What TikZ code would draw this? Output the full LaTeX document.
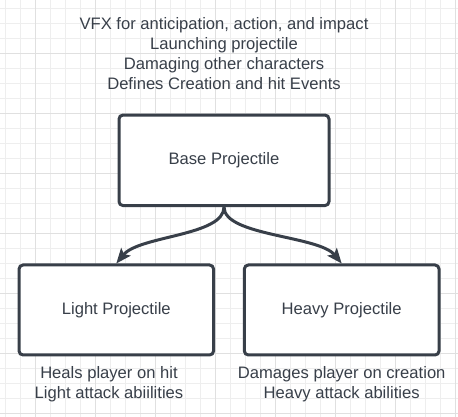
\documentclass[tikz,border=0pt]{standalone}
\usepackage{fontspec}
\setmainfont{Liberation Sans}
\usepackage{tikz}
\usetikzlibrary{arrows.meta}
\definecolor{inkgray}{HTML}{383F49}
\definecolor{minorgray}{HTML}{EEEEEE}
\definecolor{majorgray}{HTML}{E0E0E0}
\tikzset{
	projbox/.style={draw=inkgray, line width=3pt, rounded corners=4pt, fill=white, inner sep=0pt, text=inkgray, font=\fontsize{16.6pt}{20pt}\selectfont},
	notetext/.style={align=center, inner sep=0pt, text=inkgray, font=\fontsize{16.6pt}{20pt}\selectfont},
	inherit/.style={draw=inkgray, line width=3pt, -{Stealth[length=15pt,width=12pt,inset=3pt]}},
	gridminor/.style={draw=minorgray, line width=1pt},
	gridmajor/.style={draw=majorgray, line width=1pt}
}

\begin{document}
\begin{tikzpicture}[x=1pt, y=1pt]
		\useasboundingbox (0,0) rectangle (458,417);
		\fill [white] (0,0) rectangle (458,417);
		% grille de fond
		\foreach \gx in {5,20,...,455} \draw [gridminor] (\gx,0) -- (\gx,417);
		\foreach \gy in {3.7,18.7,...,410} \draw [gridminor] (0,\gy) -- (458,\gy);
		\foreach \gx in {35,95,...,455} \draw [gridmajor] (\gx,0) -- (\gx,417);
		\foreach \gy in {3.7,63.7,...,410} \draw [gridmajor] (0,\gy) -- (458,\gy);
		
		\node [projbox, minimum width=210pt, minimum height=90.5pt] (base) at (224,256.7) {Base Projectile};
		\node [projbox, minimum width=194.5pt, minimum height=90pt] (light) at (116.3,107) {Light Projectile};
		\node [projbox, minimum width=194.7pt, minimum height=90pt] (heavy) at (341.7,107) {Heavy Projectile};
		
		\node [notetext] (basenote) at (224,363) {VFX for anticipation, action, and impact\\Launching projectile\\Damaging other characters\\Defines Creation and hit Events};
		\node [notetext] (lightnote) at (109,33) {Heals player on hit\\Light attack abiilities};
		\node [notetext] (heavynote) at (341.7,33) {Damages player on creation\\Heavy attack abilities};
		
		\draw [inherit] (base.south) .. controls +(0,-29) and +(23,28) .. (light.north);
		\draw [inherit] (base.south) .. controls +(0,-29) and +(-23,28) .. (heavy.north);
		%\draw [inherit] (base.south) to[out=-90,in=60] (light.north);
	\end{tikzpicture}
\end{document}
